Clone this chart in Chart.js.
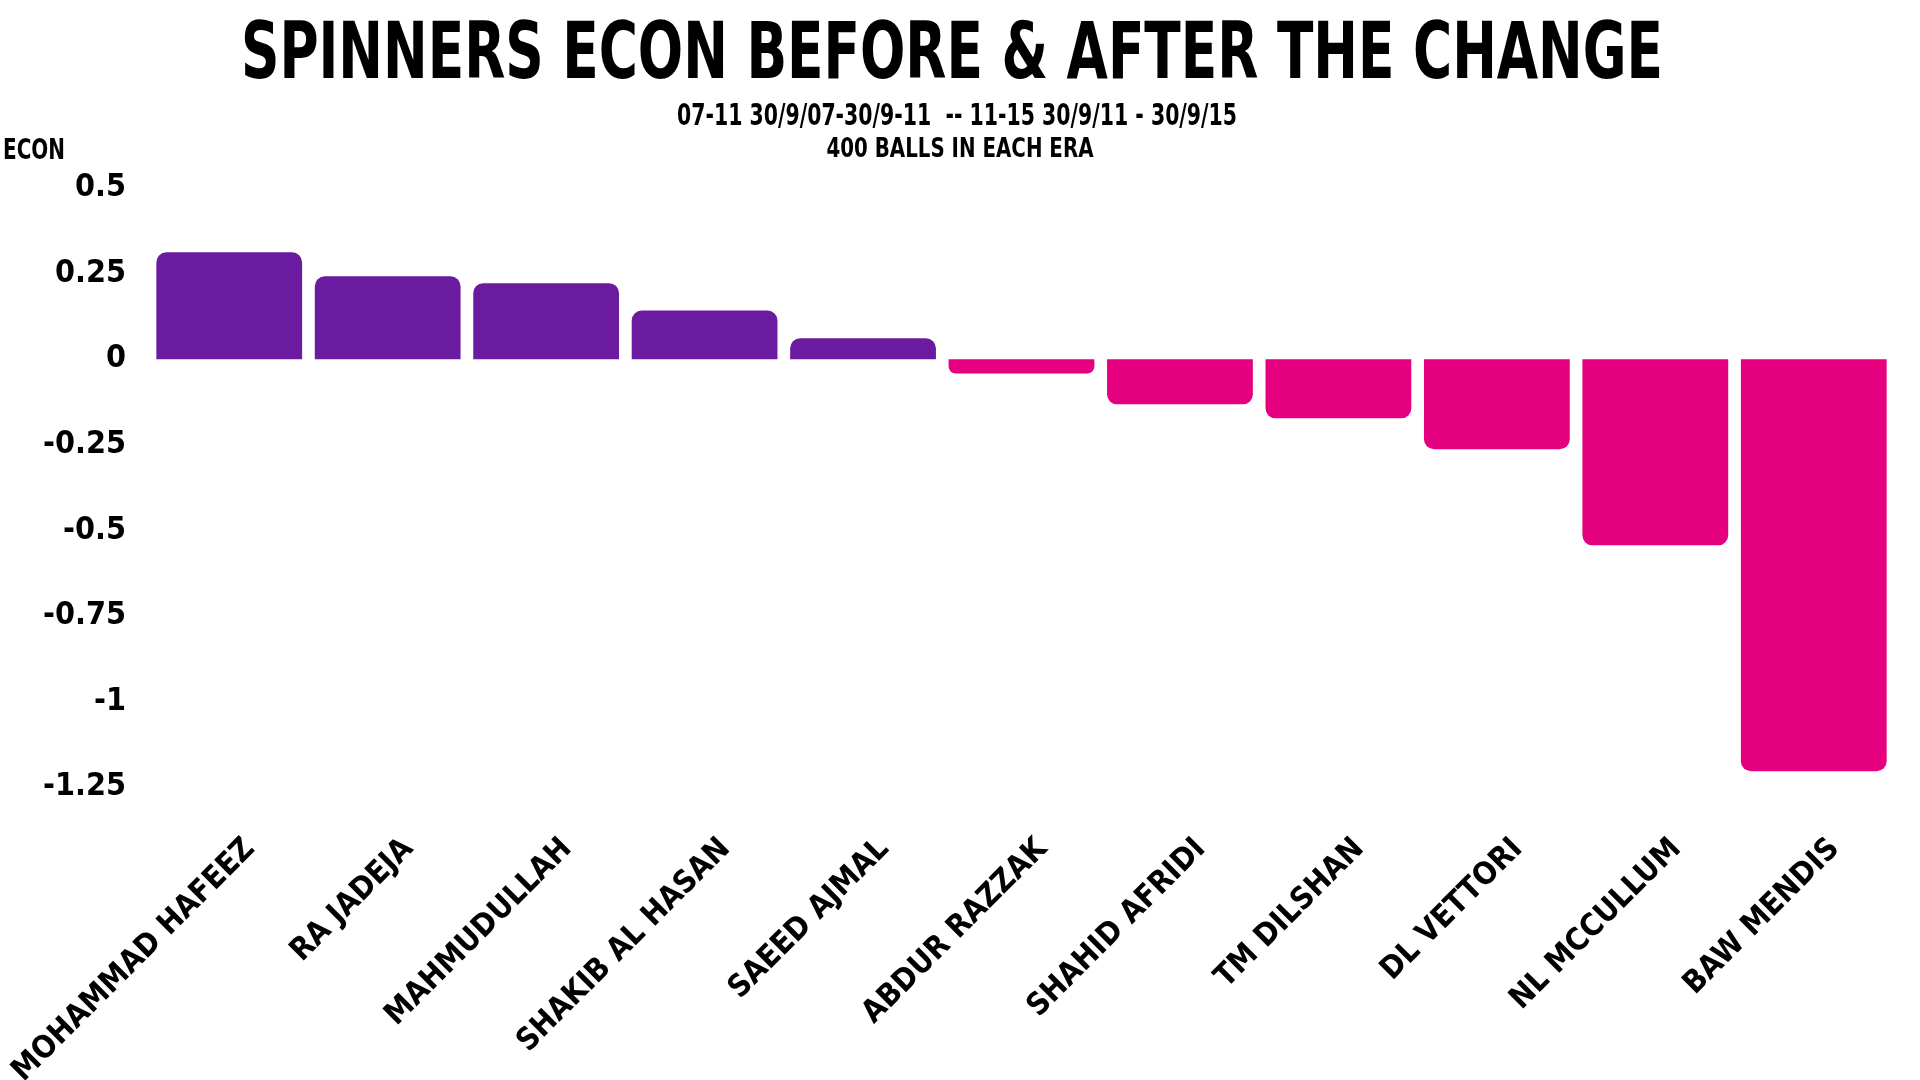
<!DOCTYPE html>
<html lang="en">

<head>
    <meta charset="UTF-8">
    <title>Spinners econ before & after the change</title>
    <script src="https://cdn.jsdelivr.net/npm/chart.js"></script>
    <style>
        body {
            margin: 0;
            background: #ffffff;
        }

        #wrap {
            width: 1920px;
            height: 1080px;
        }
    </style>
</head>

<body>
    <div id="wrap"><canvas id="econChart" width="1920" height="1080"></canvas></div>

    <script>
        // datos
        const bowlers = ["MOHAMMAD HAFEEZ", "RA JADEJA", "MAHMUDULLAH", "SHAKIB AL HASAN", "SAEED AJMAL",
            "ABDUR RAZZAK", "SHAHID AFRIDI", "TM DILSHAN", "DL VETTORI", "NL MCCULLUM", "BAW MENDIS"];
        const econChange = [0.312, 0.242, 0.222, 0.142, 0.061, -0.042, -0.132, -0.173, -0.263, -0.544, -1.204];
        const yTicks = [0.5, 0.25, 0, -0.25, -0.5, -0.75, -1, -1.25];
        const yTickLabels = ["0.5", "0.25", "0", "-0.25", "-0.5", "-0.75", "-1", "-1.25"];

        const titleText = "SPINNERS ECON BEFORE & AFTER THE CHANGE";
        const subtitleLines = ["07-11 30/9/07-30/9-11  -- 11-15 30/9/11 - 30/9/15", "400 BALLS IN EACH ERA"];
        const axisTitle = "ECON";

        const FONT = "'DejaVu Sans Condensed', 'DejaVu Sans', sans-serif";
        const PURPLE = "#6a1b9f";
        const PINK = "#e4007f";

        // texto estrechado al ancho que tiene en la imagen
        function textoAjustado(ctx, text, cx, baseline, size, width) {
            ctx.save();
            ctx.font = "bold " + size + "px " + FONT;
            const w = ctx.measureText(text).width;
            ctx.translate(cx, baseline);
            ctx.scale(width / w, 1);
            ctx.textAlign = "center";
            ctx.textBaseline = "alphabetic";
            ctx.fillStyle = "#000";
            ctx.fillText(text, 0, 0);
            ctx.restore();
        }

        // título, subtítulo y "ECON"
        const cabecera = {
            id: "cabecera",
            afterDraw(chart) {
                const ctx = chart.ctx;
                textoAjustado(ctx, titleText, 952, 78, 78, 1422);
                textoAjustado(ctx, subtitleLines[0], 957, 125, 30, 560);
                textoAjustado(ctx, subtitleLines[1], 960, 157, 27, 267);
                textoAjustado(ctx, axisTitle, 34, 159, 29, 62);
            }
        };

        new Chart(document.getElementById("econChart"), {
            type: "bar",
            data: {
                labels: bowlers,
                datasets: [{
                    label: "ECON",
                    data: econChange,
                    backgroundColor: econChange.map(v => v >= 0 ? PURPLE : PINK),
                    borderRadius: 10,
                    borderSkipped: "start",
                    barPercentage: 0.92,
                    categoryPercentage: 1
                }]
            },
            options: {
                responsive: false,
                animation: false,
                layout: {
                    padding: { left: 0, right: 27, top: 188, bottom: 0 }
                },
                plugins: {
                    legend: { display: false },
                    tooltip: { enabled: false }
                },
                scales: {
                    x: {
                        grid: { display: false, drawTicks: false },
                        border: { display: false },
                        ticks: {
                            color: "#000",
                            font: { family: FONT, size: 31, weight: "bold" },
                            minRotation: 45,
                            maxRotation: 45,
                            autoSkip: false,
                            padding: 44,
                            labelOffset: 21
                        },
                        afterFit(axis) {
                            axis.height = 293;
                            axis.paddingLeft = 0;
                            axis.paddingRight = 0;
                        }
                    },
                    y: {
                        min: -1.25,
                        max: 0.5,
                        afterBuildTicks(axis) {
                            axis.ticks = yTicks.map(v => ({ value: v }));
                        },
                        grid: { display: false, drawTicks: false },
                        border: { display: false },
                        ticks: {
                            color: "#000",
                            font: { family: FONT, size: 32, weight: "bold" },
                            padding: 24,
                            callback: (v) => yTickLabels[yTicks.indexOf(v)]
                        },
                        afterFit(axis) {
                            axis.width = 150;
                        }
                    }
                }
            },
            plugins: [cabecera]
        });
    </script>
</body>

</html>
